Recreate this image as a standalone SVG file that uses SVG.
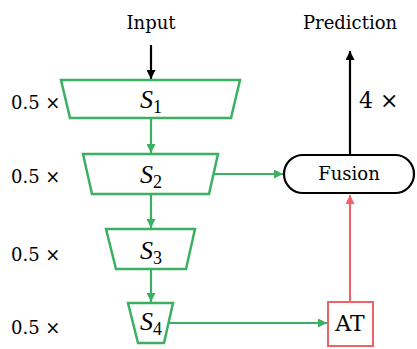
<svg xmlns="http://www.w3.org/2000/svg" width="417" height="349" viewBox="0 0 417 349">
  <style>
    text { font-family: "DejaVu Serif", "Liberation Serif", serif; fill: #000; }
    .lbl { font-size: 18px; }
    .big { font-size: 22px; }
    .s { font-size: 26px; font-style: italic; font-family: "Liberation Serif", serif; }
    .sub { font-size: 18px; font-style: normal; }
    .stage { fill: #fff; stroke: #3cb062; stroke-width: 2.5; }
    .g { stroke: #3cb062; stroke-width: 2.2; fill: none; }
    .k { stroke: #000; stroke-width: 2.2; fill: none; }
    .r { stroke: #f06266; stroke-width: 2; fill: none; }
  </style>
  <defs>
    <marker id="ag" viewBox="0 0 10 10" refX="10" refY="5" markerWidth="9" markerHeight="9" orient="auto" markerUnits="userSpaceOnUse">
      <path d="M0,0 L10,5 L0,10 z" fill="#3cb062"/>
    </marker>
    <marker id="ak" viewBox="0 0 10 10" refX="10" refY="5" markerWidth="9" markerHeight="9" orient="auto" markerUnits="userSpaceOnUse">
      <path d="M0,0 L10,5 L0,10 z" fill="#000"/>
    </marker>
    <marker id="ar" viewBox="0 0 10 10" refX="10" refY="5" markerWidth="9" markerHeight="9" orient="auto" markerUnits="userSpaceOnUse">
      <path d="M0,0 L10,5 L0,10 z" fill="#f06266"/>
    </marker>
  </defs>

  <!-- scale labels -->
  <g id="scales" class="lbl">
    <text x="11" y="109">0.5 ×</text>
    <text x="11" y="183">0.5 ×</text>
    <text x="11" y="261">0.5 ×</text>
    <text x="11" y="334">0.5 ×</text>
  </g>

  <g id="input"><text class="lbl" x="151" y="29" text-anchor="middle">Input</text></g>
  <g id="prediction"><text class="lbl" x="350" y="29" text-anchor="middle">Prediction</text></g>
  <g id="upsample"><text class="big" x="359" y="108">4 ×</text></g>

  <g id="connectors">
    <line class="k" x1="151" y1="45" x2="151" y2="79" marker-end="url(#ak)"/>
    <line class="g" x1="151" y1="119" x2="151" y2="153" marker-end="url(#ag)"/>
    <line class="g" x1="151" y1="194" x2="151" y2="228" marker-end="url(#ag)"/>
    <line class="g" x1="151" y1="269" x2="151" y2="302" marker-end="url(#ag)"/>
    <line class="g" x1="213" y1="174" x2="283" y2="174" marker-end="url(#ag)"/>
    <line class="g" x1="169" y1="323" x2="327" y2="323" marker-end="url(#ag)"/>
    <line class="r" x1="350" y1="301" x2="350" y2="195" marker-end="url(#ar)"/>
    <line class="k" x1="350" y1="154" x2="350" y2="51" marker-end="url(#ak)"/>
  </g>

  <g id="S1">
    <polygon class="stage" points="61,80 240,80 231,118 70,118"/>
    <text class="s" x="151" y="108" text-anchor="middle">S<tspan class="sub" dy="5">1</tspan></text>
  </g>
  <g id="S2">
    <polygon class="stage" points="83,154 218,154 209,194 92,194"/>
    <text class="s" x="151" y="183" text-anchor="middle">S<tspan class="sub" dy="5">2</tspan></text>
  </g>
  <g id="S3">
    <polygon class="stage" points="106,229 195,229 186,269 116,269"/>
    <text class="s" x="151" y="259" text-anchor="middle">S<tspan class="sub" dy="5">3</tspan></text>
  </g>
  <g id="S4">
    <polygon class="stage" points="128,303 173,303 164,343 138,343"/>
    <text class="s" x="151" y="330" text-anchor="middle">S<tspan class="sub" dy="5">4</tspan></text>
  </g>

  <g id="fusion">
    <rect x="284" y="155" width="130" height="38" rx="19" fill="#fff" stroke="#000" stroke-width="2.2"/>
    <text class="lbl" x="349" y="180" text-anchor="middle">Fusion</text>
  </g>

  <g id="at">
    <rect x="328" y="302" width="45" height="44" fill="#fff" stroke="#f06266" stroke-width="2"/>
    <text class="big" x="350" y="331" text-anchor="middle">AT</text>
  </g>
</svg>
